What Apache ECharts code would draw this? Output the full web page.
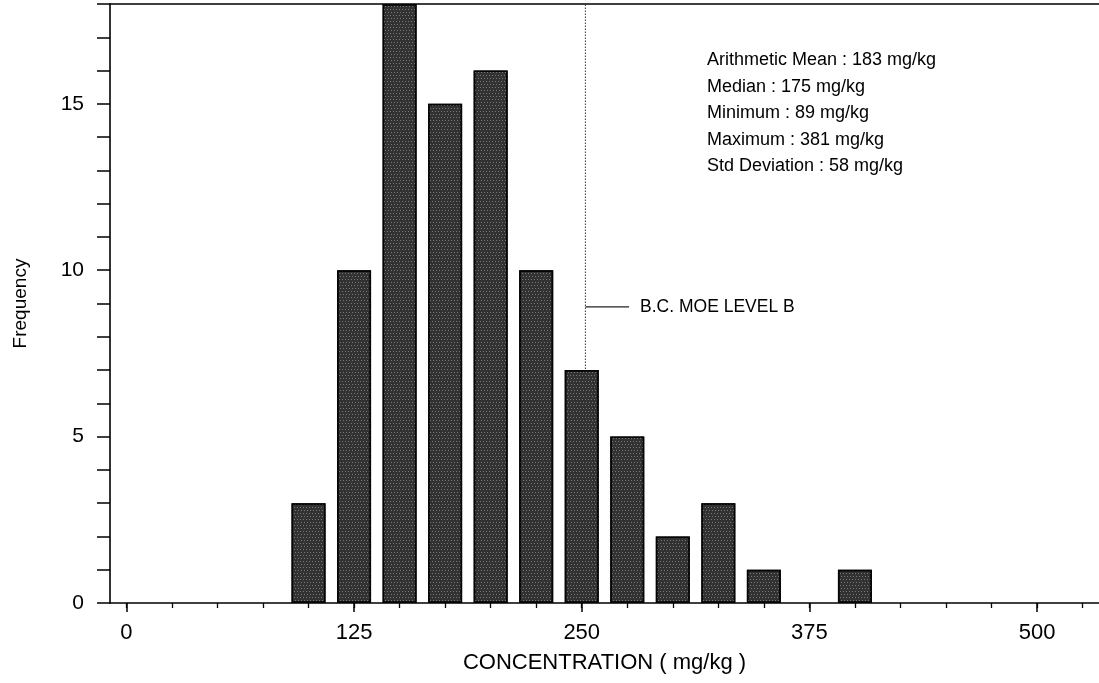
<!DOCTYPE html>
<html>
<head>
<meta charset="utf-8">
<script src="https://cdn.jsdelivr.net/npm/echarts@6/dist/echarts.min.js"></script>
<style>
html,body{margin:0;padding:0;background:#fff;}
#chart{width:1099px;height:683px;}
</style>
</head>
<body>
<div id="chart"></div>
<script>
// Histogram bin centres (mg/kg) and frequencies
const binCenters = [100, 125, 150, 175, 200, 225, 250, 275, 300, 325, 350, 375, 400];
const frequencies = [3, 10, 18, 15, 16, 10, 7, 5, 2, 3, 1, 0, 1];
// Axis tick values
const xMajorTicks = [0, 125, 250, 375, 500];
const xMinorTicks = [0, 25, 50, 75, 100, 125, 150, 175, 200, 225, 250, 275, 300, 325, 350, 375, 400, 425, 450, 475, 500, 525];
const yLabelTicks = [0, 5, 10, 15];
// Reference level (B.C. MOE Level B) and its label anchor height
const levelB = 252;
const levelLabelY = 8.9;
const levelConnectorEnd = 276;
const levelLabel = 'B.C. MOE LEVEL B';
// Summary statistics text
const statsLines = [
  'Arithmetic Mean : 183 mg/kg',
  'Median : 175 mg/kg',
  'Minimum : 89 mg/kg',
  'Maximum : 381 mg/kg',
  'Std Deviation : 58 mg/kg'
];

const FONT = '"Liberation Sans", Arial, Helvetica, sans-serif';
const chart = echarts.init(document.getElementById('chart'));

const barStyle = {
  color: '#323232', borderColor: '#050505', borderWidth: 1.5,
  decal: {
    symbol: 'rect', symbolSize: 1, color: 'rgba(190,190,190,0.5)',
    dashArrayX: [[1, 2], [0, 1, 1, 1]], dashArrayY: [1, 2], rotation: 0
  }
};

const option = {
  backgroundColor: '#ffffff',
  animation: false,
  grid: { left: 110, right: 0, top: 4, bottom: 80, containLabel: false, outerBoundsMode: 'none' },
  xAxis: [
    {
      type: 'value', position: 'bottom', min: -9, max: 534,
      name: 'CONCENTRATION ( mg/kg )', nameLocation: 'middle', nameGap: 49,
      nameTextStyle: { fontFamily: FONT, fontSize: 22, color: '#000' },
      axisLine: { show: true, onZero: false, lineStyle: { color: '#000', width: 1.6 } },
      axisTick: { show: true, customValues: xMajorTicks, length: 9, lineStyle: { color: '#000', width: 1.5 } },
      axisLabel: { show: true, customValues: xMajorTicks, margin: 19, fontFamily: FONT, fontSize: 22, color: '#000' },
      splitLine: { show: false }
    },
    {
      type: 'value', position: 'bottom', min: -9, max: 534,
      axisLine: { show: false, onZero: false },
      axisTick: { show: true, customValues: xMinorTicks, length: 5, lineStyle: { color: '#000', width: 1.3 } },
      axisLabel: { show: false },
      splitLine: { show: false }
    },
    {
      type: 'value', position: 'top', min: -9, max: 534,
      axisLine: { show: true, onZero: false, lineStyle: { color: '#000', width: 1.6 } },
      axisTick: { show: false },
      axisLabel: { show: false },
      splitLine: { show: false }
    }
  ],
  yAxis: {
    type: 'value', min: 0, max: 18, interval: 1,
    name: 'Frequency', nameLocation: 'middle', nameGap: 80, nameRotate: 90,
    nameTextStyle: { fontFamily: FONT, fontSize: 19, color: '#000' },
    axisLine: { show: true, onZero: false, lineStyle: { color: '#000', width: 1.6 } },
    axisTick: { show: true, length: 13, lineStyle: { color: '#000', width: 1.5 } },
    axisLabel: {
      show: true, margin: 26, fontFamily: FONT, fontSize: 21, color: '#000',
      formatter: v => (yLabelTicks.indexOf(v) >= 0 ? String(v) : '')
    },
    splitLine: { show: false }
  },
  series: [
    {
      type: 'line', xAxisIndex: 0, z: 1, symbol: 'none', silent: true,
      data: [[levelB, 0], [levelB, 18]],
      lineStyle: { color: '#333', width: 1, type: [1.5, 1.5] }
    },
    {
      type: 'line', xAxisIndex: 0, z: 1, symbol: 'none', silent: true,
      data: [[levelB, levelLabelY], [levelConnectorEnd, levelLabelY]],
      lineStyle: { color: '#222', width: 1.2 },
      endLabel: {
        show: true, formatter: levelLabel, distance: 11,
        fontFamily: FONT, fontSize: 17.5, color: '#000'
      }
    },
    {
      type: 'bar', xAxisIndex: 0, z: 3, barWidth: 34,
      data: binCenters.map((c, i) => (frequencies[i] > 0
        ? { value: [c, frequencies[i]] }
        : { value: [c, frequencies[i]], itemStyle: { borderWidth: 0, opacity: 0 } })),
      itemStyle: barStyle
    }
  ],
  graphic: [
    {
      type: 'text', left: 707, top: 47,
      style: {
        text: statsLines.join('\n'), fontFamily: FONT, fontSize: 18,
        lineHeight: 26.5, fill: '#000'
      }
    }
  ]
};
chart.setOption(option);
</script>
</body>
</html>
